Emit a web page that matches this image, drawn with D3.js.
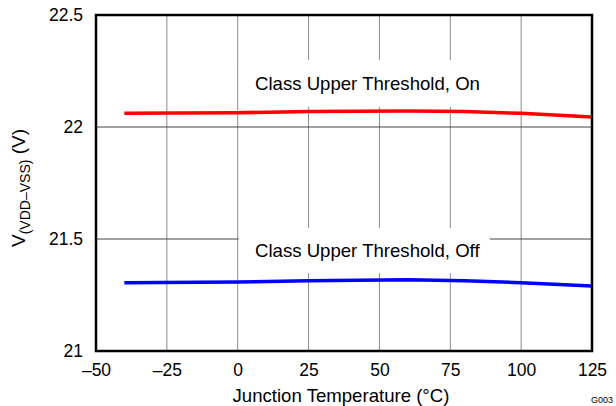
<!DOCTYPE html>
<html>
<head>
<meta charset="utf-8">
<script src="https://cdn.jsdelivr.net/npm/d3@7"></script>
<style>
  body { margin: 0; background: #fff; }
  text { font-family: "Liberation Sans", Arial, sans-serif; fill: #000; }
</style>
</head>
<body>
<script>
// junction temperature (°C)
var temps = [-40, 0, 25, 60, 80, 100, 125];
// threshold voltages (V)
var upperOn  = [22.061, 22.064, 22.069, 22.071, 22.069, 22.061, 22.045];
var upperOff = [21.305, 21.308, 21.314, 21.318, 21.314, 21.305, 21.290];

var xTicks = [-50, -25, 0, 25, 50, 75, 100, 125];
var yTicks = [21, 21.5, 22, 22.5];

var width = 616, height = 406;
var margin = { left: 96, right: 24, top: 15, bottom: 55 };

var svg = d3.select("body")
  .append("svg")
    .attr("width", width)
    .attr("height", height);

var x = d3.scaleLinear().domain([-50, 125]).range([margin.left, width - margin.right]);
var y = d3.scaleLinear().domain([21, 22.5]).range([height - margin.bottom, margin.top]);

//grid
svg.append("g")
  .selectAll("line")
  .data(xTicks.slice(1, -1))
  .enter().append("line")
    .attr("x1", function(d) { return x(d); })
    .attr("x2", function(d) { return x(d); })
    .attr("y1", y(21))
    .attr("y2", y(22.5))
    .attr("stroke", "#8a8a8a")
    .attr("stroke-width", 1);

svg.append("g")
  .selectAll("line")
  .data(yTicks.slice(1, -1))
  .enter().append("line")
    .attr("x1", x(-50))
    .attr("x2", x(125))
    .attr("y1", function(d) { return y(d); })
    .attr("y2", function(d) { return y(d); })
    .attr("stroke", "#444")
    .attr("stroke-width", 1);

// label boxes, white background hiding the grid
var labels = [
  { text: "Class Upper Threshold, On",  top: 60,  bottom: 107, base: 90 },
  { text: "Class Upper Threshold, Off", top: 228, bottom: 273, base: 257 }
];
labels.forEach(function(l) {
  svg.append("rect")
    .attr("x", x(0) + 1)
    .attr("y", l.top)
    .attr("width", 251)
    .attr("height", l.bottom - l.top)
    .attr("fill", "#fff");
  svg.append("text")
    .attr("x", 255)
    .attr("y", l.base)
    .attr("font-size", 18.6)
    .text(l.text);
});

var line = d3.line()
  .x(function(d) { return x(d[0]); })
  .y(function(d) { return y(d[1]); });

svg.append("path")
  .datum(d3.zip(temps, upperOn))
  .attr("d", line)
  .attr("fill", "none")
  .attr("stroke", "#ff0000")
  .attr("stroke-width", 3.5);

svg.append("path")
  .datum(d3.zip(temps, upperOff))
  .attr("d", line)
  .attr("fill", "none")
  .attr("stroke", "#0000ff")
  .attr("stroke-width", 3.5);

// axes
var xAxis = svg.append("g")
  .attr("transform", "translate(0," + y(21) + ")")
  .call(d3.axisBottom(x).tickValues(xTicks).tickSize(0).tickPadding(13)
    .tickFormat(function(d) { return d < 0 ? "\u2013" + Math.abs(d) : d; }));
var yAxis = svg.append("g")
  .attr("transform", "translate(" + x(-50) + ",0)")
  .call(d3.axisLeft(y).tickValues(yTicks).tickSize(0).tickPadding(13)
    .tickFormat(function(d) { return String(d); }));

[xAxis, yAxis].forEach(function(a) {
  a.select(".domain").remove();
  a.selectAll("text")
    .attr("font-size", 17.5)
    .attr("font-family", "Liberation Sans, Arial, sans-serif")
    .attr("fill", "#000");
});

// frame
svg.append("rect")
  .attr("x", x(-50))
  .attr("y", y(22.5))
  .attr("width", x(125) - x(-50))
  .attr("height", y(21) - y(22.5))
  .attr("fill", "none")
  .attr("stroke", "#000")
  .attr("stroke-width", 2.5);

// titles
svg.append("text")
  .attr("x", (x(-50) + x(125)) / 2 - 3)
  .attr("y", 402)
  .attr("text-anchor", "middle")
  .attr("font-size", 18.6)
  .text("Junction Temperature (°C)");

var yl = svg.append("text")
  .attr("transform", "translate(25,188) rotate(-90)")
  .attr("text-anchor", "middle")
  .attr("font-size", 19);
yl.append("tspan").text("V");
yl.append("tspan").attr("font-size", 14).attr("dy", 5).text("(VDD\u2013VSS)");
yl.append("tspan").attr("dy", -5).text(" (V)");

svg.append("text")
  .attr("x", 613)
  .attr("y", 403)
  .attr("text-anchor", "end")
  .attr("font-size", 9)
  .text("G003");
</script>
</body>
</html>
